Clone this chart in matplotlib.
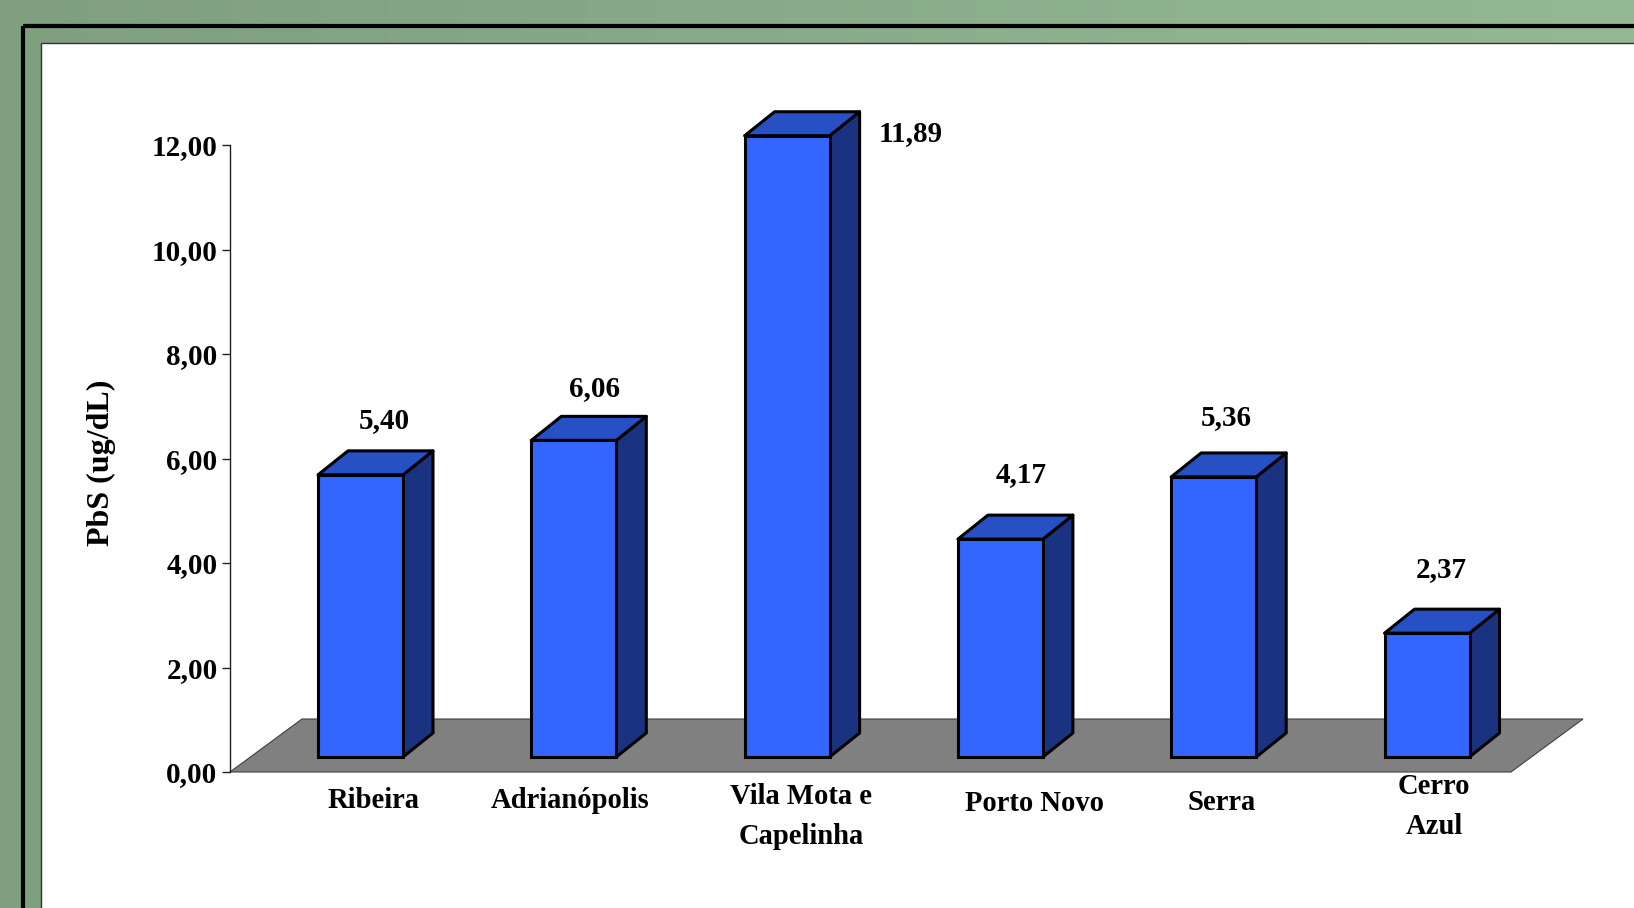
import matplotlib
matplotlib.use('Agg')
import matplotlib.pyplot as plt
import numpy as np
from matplotlib.patches import Polygon, Rectangle
from matplotlib.colors import LinearSegmentedColormap

# dados
categorias = ['Ribeira', 'Adrianópolis', 'Vila Mota e\nCapelinha', 'Porto Novo', 'Serra', 'Cerro\nAzul']
valores = [5.40, 6.06, 11.89, 4.17, 5.36, 2.37]
rotulos_valores = ['5,40', '6,06', '11,89', '4,17', '5,36', '2,37']
yticks = [0, 2, 4, 6, 8, 10, 12]
ytick_labels = ['0,00', '2,00', '4,00', '6,00', '8,00', '10,00', '12,00']

# deslocamentos dos rótulos em pixels (ajuste de layout)
desl_valor = [(24, 54), (21, 52), (124, 2), (21, 65), (13, 59), (14, 64)]
desl_categ = [(13, 787), (-4, 787), (14, 783), (34, 790), (8, 789), (7, 773)]

plt.rcParams['font.family'] = ['Liberation Serif', 'DejaVu Serif']
plt.rcParams['font.weight'] = 'bold'

W, H = 1634, 908
fig = plt.figure(figsize=(W / 100, H / 100), dpi=100)

# fundo: degradê verde, moldura preta e painel branco (em pixels)
bg = fig.add_axes([0, 0, 1, 1])
bg.set_xlim(0, W)
bg.set_ylim(H, 0)
bg.axis('off')
verde = LinearSegmentedColormap.from_list('verde', ['#7f9f7f', '#94b894'])
grad = np.linspace(0, 1, 256).reshape(1, -1)
bg.imshow(grad, cmap=verde, extent=[0, W, H, 0], aspect='auto')
bg.add_patch(Rectangle((23, 26), W + 20, H + 20, fill=False, edgecolor='black', linewidth=3))
bg.add_patch(Rectangle((41, 43), W, H, facecolor='white', edgecolor='#333333', linewidth=1))

# eixo principal (0 no plano frontal do piso)
left, right, bottom, top = 230, 1511, 772, 145
ax = fig.add_axes([left / W, 1 - bottom / H, (right - left) / W, (bottom - top) / H])
x0, x1 = -0.6118, 5.3938
ax.set_xlim(x0, x1)
ax.set_ylim(0, 12)
ax.patch.set_alpha(0)

px_x = (x1 - x0) / (right - left)   # unidades de categoria por pixel
px_y = 12 / (bottom - top)          # unidades de valor por pixel

largura = 85 * px_x
elev = 15 * px_y                     # base das barras acima da borda do piso
bdx, bdy = 30 * px_x, 24 * px_y      # profundidade das barras
pdx, pdy = 72 * px_x, 53 * px_y      # profundidade do piso

# piso
ax.add_patch(Polygon([(x0, 0), (x1, 0), (x1 + pdx, pdy), (x0 + pdx, pdy)],
                     closed=True, facecolor='#808080', edgecolor='#404040',
                     linewidth=0.8, clip_on=False, zorder=1))

x = np.arange(len(valores))
ax.bar(x, valores, width=largura, bottom=elev, color='#3366ff',
       edgecolor='black', linewidth=2.2, zorder=3, clip_on=False)

for i, v in zip(x, valores):
    xl, xr = i - largura / 2, i + largura / 2
    yt = elev + v
    lado = [(xr, elev), (xr + bdx, elev + bdy), (xr + bdx, yt + bdy), (xr, yt)]
    topo = [(xl, yt), (xl + bdx, yt + bdy), (xr + bdx, yt + bdy), (xr, yt)]
    ax.add_patch(Polygon(lado, closed=True, facecolor='#1a3380', edgecolor='black',
                         linewidth=2.2, joinstyle='round', clip_on=False, zorder=2))
    ax.add_patch(Polygon(topo, closed=True, facecolor='#2650c4', edgecolor='black',
                         linewidth=2.2, joinstyle='round', clip_on=False, zorder=2))

# rótulos de valores
for i, v, r, (dx, dy) in zip(x, valores, rotulos_valores, desl_valor):
    ax.text(i + dx * px_x, v + elev + dy * px_y, r, ha='center', va='center',
            fontsize=21, fontweight='bold', clip_on=False)

# rótulos das categorias
for i, c, (dx, ytop) in zip(x, categorias, desl_categ):
    ax.text(i + dx * px_x, (bottom - ytop) * px_y, c, ha='center', va='top',
            fontsize=20.6, fontweight='bold', linespacing=1.64, clip_on=False)

ax.set_yticks(yticks)
ax.set_yticklabels(ytick_labels, fontsize=21, fontweight='bold')
ax.set_xticks([])
for s in ['top', 'right', 'bottom']:
    ax.spines[s].set_visible(False)
ax.spines['left'].set_color('#222222')
ax.spines['left'].set_linewidth(1)
ax.tick_params(axis='y', length=6, width=1, color='#222222', pad=3)

fig.text(101 / W, 1 - 463 / H, 'PbS (ug/dL)', rotation=90, ha='center', va='center',
         fontsize=23, fontweight='bold')

fig.savefig('out.png', dpi=100)
